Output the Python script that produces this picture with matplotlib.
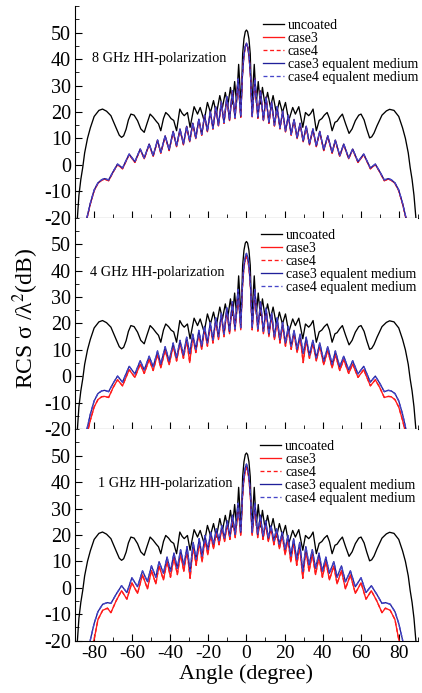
import matplotlib.pyplot as plt
from matplotlib.ticker import MultipleLocator

plt.rcParams['font.family'] = ['Liberation Serif', 'DejaVu Serif']
plt.rcParams['mathtext.fontset'] = 'stix'
plt.rcParams['axes.unicode_minus'] = False

# uncoated target (same in every panel)
angle_unc = [-88.8, -88.0, -87.0, -86.0, -85.0, -83.5, -82.0, -80.0, -77.5, -75.6, -73.5, -71.2, -68.6, -66.8,
             -65.6, -64.5, -63.2, -62.0, -60.7, -59.0, -57.2, -55.5, -53.7, -52.3, -50.6, -49.0, -47.4, -46.2,
             -45.0, -43.6, -42.4, -40.9, -39.6, -38.2, -36.7, -35.0, -33.8, -32.7, -31.0, -29.6, -27.5, -25.7,
             -24.3, -22.2, -20.5, -18.9, -17.3, -15.8, -14.0, -12.6, -11.1, -9.8, -8.4, -7.3, -6.2, -5.2, -4.1,
             -2.8, -2.0, -1.3, -0.6, 0.0,
             0.6, 1.3, 2.0, 2.8, 4.1, 5.2, 6.2, 7.3, 8.4, 9.8, 11.1, 12.6, 14.0, 15.8, 17.3, 18.9, 20.5, 22.2,
             24.3, 25.7, 27.5, 29.6, 31.0, 32.7, 33.8, 35.0, 36.7, 38.2, 39.6, 40.9, 42.4, 43.6, 45.0, 46.5,
             47.6, 49.0, 50.4, 52.1, 53.9, 55.5, 57.2, 59.0, 60.2, 61.8, 63.2, 64.7, 65.8, 67.0, 68.6, 71.2,
             73.5, 75.2, 77.5, 80.0, 82.0, 83.5, 85.0, 86.0, 87.0, 88.0, 89.0]
rcs_unc = [-20, -11.5, -5.5, -1.0, 4.5, 10.0, 14.0, 18.3, 20.6, 21.1, 20.3, 18.6, 14.2, 11.2,
           10.4, 11.0, 13.5, 17.0, 19.2, 18.8, 16.7, 13.6, 12.3, 15.5, 19.2, 18.0, 16.5, 15.5,
           12.9, 17.5, 19.8, 18.8, 17.5, 16.8, 12.9, 21.1, 19.5, 18.6, 19.8, 14.2, 22.0, 19.2,
           21.7, 16.7, 23.6, 19.8, 24.3, 19.2, 26.2, 21.7, 27.4, 22.4, 29.3, 23.0, 31.5, 23.5, 38.0,
           22.0, 42.0, 47.7, 50.4, 51.0,
           50.4, 47.7, 42.0, 22.0, 38.0, 23.5, 31.5, 23.0, 29.3, 22.4, 27.4, 21.7, 26.2, 19.2, 24.3, 19.8,
           23.6, 16.7, 21.7, 19.2, 22.0, 14.2, 19.8, 18.6, 19.5, 21.1, 12.9, 16.8, 17.5, 18.8, 19.8, 17.5,
           12.9, 16.1, 16.5, 18.0, 19.2, 15.5, 11.9, 13.6, 16.7, 18.8, 19.2, 17.0, 13.5, 10.2, 10.6, 12.0,
           14.8, 18.8, 20.4, 21.0, 20.6, 18.3, 14.0, 10.0, 4.5, -1.0, -5.5, -11.5, -20]

# coated targets, 8 GHz and 4 GHz share the lobe angles
angle_hi = [-83.8, -82.0, -80.0, -78.0, -76.0, -74.5, -72.4, -70.0, -67.7, -65.1, -61.6, -58.6, -55.8, -53.7,
            -51.1, -49.0, -46.7, -45.0, -42.7, -40.6, -38.5, -36.7, -34.9, -33.1, -31.4, -29.8, -28.2, -26.6,
            -25.0, -23.5, -22.0, -20.5, -19.0, -17.6, -16.1, -14.7, -13.2, -11.8, -10.3, -8.9, -7.4, -6.0,
            -4.4, -3.0, -2.2, -1.4, -0.7, 0.0,
            0.7, 1.4, 2.2, 3.0, 4.4, 6.0, 7.4, 8.9, 10.3, 11.8, 13.2, 14.7, 16.1, 17.6, 19.0, 20.5, 22.0,
            23.5, 25.0, 26.6, 28.2, 29.8, 31.4, 33.1, 34.9, 36.7, 38.5, 40.6, 42.7, 45.0, 46.7, 49.0, 51.1,
            53.7, 55.8, 58.6, 61.6, 65.1, 67.7, 70.0, 72.4, 74.5, 76.0, 78.0, 80.0, 82.0, 83.8]

case3_8 = [-20.3, -14.8, -9.8, -7.0, -5.8, -5.4, -6.0, -2.7, 0.1, -1.5, 3.9, 0.9, 5.8, 2.3, 7.7, 3.2, 9.2, 4.4,
           10.8, 5.4, 12.5, 6.9, 13.4, 7.6, 14.4, 8.7, 15.6, 9.9, 17.1, 11.2, 18.6, 12.5, 20.1, 13.5, 21.8, 14.7,
           23.6, 15.7, 25.6, 16.7, 27.8, 17.5, 32.3, 18.0, 32.8, 40.8, 44.4, 45.8,
           44.4, 40.8, 32.8, 18.1, 32.4, 17.6, 27.8, 16.7, 25.5, 15.7, 23.6, 14.7, 21.8, 13.6, 20.1, 12.5, 18.6,
           11.2, 17.0, 9.9, 15.6, 8.7, 14.4, 7.6, 13.4, 6.9, 12.5, 5.4, 10.8, 4.4, 9.2, 3.2, 7.7, 2.3, 5.8, 0.9,
           3.9, -1.5, 0.1, -2.7, -6.0, -5.4, -5.8, -7.0, -9.8, -14.8, -20.3]
case4_8 = case3_8
eq3_8 = [-20, -14.5, -9.5, -6.8, -5.6, -5.2, -5.7, -2.5, 0.3, -1.2, 4.1, 1.2, 6.0, 2.6, 7.9, 3.5, 9.4, 4.7,
         11.0, 5.7, 12.7, 7.2, 13.6, 7.9, 14.6, 9.0, 15.8, 10.2, 17.3, 11.5, 18.8, 12.8, 20.3, 13.8, 22.0, 15.0,
         23.8, 16.0, 25.8, 17.0, 28.0, 17.8, 32.5, 18.3, 33.0, 41.0, 44.6, 46.0,
         44.6, 41.0, 33.0, 18.4, 32.6, 17.9, 28.0, 17.0, 25.7, 16.0, 23.8, 15.0, 22.0, 13.9, 20.3, 12.8, 18.8,
         11.5, 17.2, 10.2, 15.8, 9.0, 14.6, 7.9, 13.6, 7.2, 12.7, 5.7, 11.0, 4.7, 9.4, 3.5, 7.9, 2.6, 6.0, 1.2,
         4.1, -1.2, 0.3, -2.5, -5.7, -5.2, -5.6, -6.8, -9.5, -14.5, -20]
eq4_8 = eq3_8

case3_4 = [-22.0, -16.6, -11.6, -8.8, -7.7, -7.6, -8.0, -4.2, -1.3, -3.6, 2.5, -0.4, 4.6, 1.1, 6.3, 2.2, 8.3, 3.2,
           9.9, 4.4, 11.5, 5.8, 12.6, 6.8, 13.8, 5.2, 15.0, 9.0, 16.4, 10.2, 17.9, 11.4, 19.5, 12.6, 21.3, 13.9,
           23.2, 15.0, 25.3, 16.1, 27.6, 17.1, 32.2, 17.6, 32.8, 40.6, 44.0, 45.5,
           44.0, 40.6, 32.8, 17.6, 32.2, 17.1, 27.6, 16.1, 25.3, 15.0, 23.2, 13.9, 21.3, 12.6, 19.5, 11.4, 17.9,
           10.2, 16.4, 9.0, 15.0, 5.2, 13.8, 6.8, 12.6, 5.8, 11.5, 4.4, 9.9, 3.2, 8.3, 2.2, 6.3, 1.1, 4.6, -0.4,
           2.5, -3.6, -1.3, -4.2, -8.0, -7.6, -7.7, -8.8, -11.6, -16.6, -22.0]
case4_4 = case3_4
eq3_4 = [-20, -14.3, -9.3, -6.5, -5.5, -5.3, -5.8, -2.6, 0.1, -2.2, 3.8, 0.9, 5.9, 2.4, 7.6, 3.6, 9.6, 4.6,
         11.2, 5.8, 12.6, 7.0, 13.6, 8.0, 14.8, 8.6, 16.0, 10.2, 17.4, 11.4, 18.9, 12.6, 20.4, 13.8, 22.1, 15.0,
         23.9, 16.0, 25.9, 17.0, 28.2, 17.9, 32.8, 18.4, 33.4, 41.4, 45.0, 46.5,
         45.0, 41.4, 33.4, 18.4, 32.8, 17.9, 28.2, 17.0, 25.9, 16.0, 23.9, 15.0, 22.1, 13.8, 20.4, 12.6, 18.9,
         11.4, 17.4, 10.2, 16.0, 8.6, 14.8, 8.0, 13.6, 7.0, 12.6, 5.8, 11.2, 4.6, 9.6, 3.6, 7.6, 2.4, 5.9, 0.9,
         3.8, -2.2, 0.1, -2.6, -5.8, -5.3, -5.5, -6.5, -9.3, -14.3, -20]
eq4_4 = eq3_4

# 1 GHz lobes sit at slightly different angles
angle_lo = [-82.1, -80.0, -78.0, -75.5, -73.0, -71.2, -68.5, -65.6, -62.8, -60.2, -57.2, -54.6, -52.0, -49.9,
            -47.6, -45.9, -43.6, -41.7, -39.9, -38.1, -36.3, -34.6, -32.9, -31.2, -29.6, -28.0, -26.4, -24.8,
            -23.3, -21.8, -20.3, -18.8, -17.3, -15.8, -14.4, -12.9, -11.5, -10.1, -8.7, -7.3, -5.9, -4.4,
            -3.0, -2.2, -1.4, -0.7, 0.0,
            0.7, 1.4, 2.2, 3.0, 4.4, 5.9, 7.3, 8.7, 10.1, 11.5, 12.9, 14.4, 15.8, 17.3, 18.8, 20.3, 21.8,
            23.3, 24.8, 26.4, 28.0, 29.6, 31.2, 32.9, 34.6, 36.3, 38.1, 39.9, 41.7, 43.6, 45.9, 47.6, 49.9,
            52.0, 54.6, 57.2, 60.2, 62.8, 65.6, 68.5, 71.2, 73.0, 75.5, 78.0, 80.0, 82.1]
case3_1 = [-24.0, -19.5, -12.0, -8.5, -7.7, -9.4, -5.0, -1.1, -4.3, 1.9, -2.1, 4.9, -0.4, 6.5, 1.5, 8.3, 3.0,
           10.0, 4.0, 11.6, 5.0, 12.9, 6.2, 14.2, 3.6, 15.8, 8.5, 17.2, 9.8, 18.5, 12.5, 19.8, 14.8, 21.2, 16.3,
           22.5, 17.5, 24.3, 18.3, 26.6, 19.0, 31.0, 19.8, 33.0, 40.5, 44.0, 45.6,
           44.0, 40.5, 33.0, 19.8, 31.0, 19.0, 26.6, 18.3, 24.3, 17.5, 22.5, 16.3, 21.2, 14.8, 19.8, 12.5, 18.5,
           9.8, 17.2, 8.5, 15.8, 3.6, 14.2, 6.2, 12.9, 5.0, 11.6, 4.0, 10.0, 3.0, 8.3, 1.5, 6.5, -0.4, 4.9, -2.1,
           1.9, -4.3, -1.1, -5.0, -9.4, -7.7, -8.5, -12.0, -19.5, -24.0]
case4_1 = case3_1
eq3_1 = [-20, -13.5, -9.0, -6.2, -5.6, -5.9, -2.5, 0.8, -1.8, 3.8, 0.4, 6.4, 2.3, 8.3, 4.0, 9.9, 5.5,
         11.6, 6.3, 13.1, 7.4, 14.4, 8.6, 15.6, 6.2, 17.2, 10.8, 18.6, 12.0, 19.8, 14.5, 21.0, 16.5, 22.3, 17.8,
         23.5, 18.8, 25.3, 19.5, 27.5, 20.2, 32.0, 21.0, 34.0, 41.5, 45.2, 46.8,
         45.2, 41.5, 34.0, 21.0, 32.0, 20.2, 27.5, 19.5, 25.3, 18.8, 23.5, 17.8, 22.3, 16.5, 21.0, 14.5, 19.8,
         12.0, 18.6, 10.8, 17.2, 6.2, 15.6, 8.6, 14.4, 7.4, 13.1, 6.3, 11.6, 5.5, 9.9, 4.0, 8.3, 2.3, 6.4, 0.4,
         3.8, -1.8, 0.8, -2.5, -5.9, -5.6, -6.2, -9.0, -13.5, -20]
eq4_1 = eq3_1

titles = ['8 GHz HH-polarization', '4 GHz HH-polarization', '1 GHz HH-polarization']
title_pos = [(0.05, 0.752), (0.044, 0.740), (0.067, 0.741)]
legend_pos = [(0.548, 0.94), (0.542, 0.945), (0.540, 0.95)]

RED = '#ff1a1a'
BLUE = '#20209a'
BLUE2 = '#4646c8'

fig, axes = plt.subplots(3, 1, figsize=(4.22, 6.93), dpi=100, sharex=True)
fig.subplots_adjust(left=0.178, right=0.990, bottom=0.0755, top=0.991, hspace=0)

series = [(angle_hi, case3_8, case4_8, eq3_8, eq4_8),
          (angle_hi, case3_4, case4_4, eq3_4, eq4_4),
          (angle_lo, case3_1, case4_1, eq3_1, eq4_1)]

for i, ax in enumerate(axes):
    ang, c3, c4, e3, e4 = series[i]
    ax.plot(angle_unc, rcs_unc, color='black', lw=0.95, label='uncoated')
    ax.plot(ang, c3, color=RED, lw=0.95, label='case3')
    ax.plot(ang, c4, color=RED, lw=0.95, ls=(0, (3, 2)), label='case4')
    ax.plot(ang, e3, color=BLUE, lw=0.95, label='case3 equalent medium')
    ax.plot(ang, e4, color=BLUE2, lw=0.95, ls=(0, (3, 2)), label='case4 equalent medium')

    ax.set_xlim(-90, 90)
    ax.set_ylim(-20, 60)
    ax.spines['top'].set_visible(False)
    ax.spines['right'].set_visible(False)
    ax.set_yticks(range(-20, 51, 10))
    ax.yaxis.set_minor_locator(MultipleLocator(5))
    ax.set_xticks(range(-80, 81, 20))
    ax.set_xticks(range(-90, 91, 20), minor=True)
    ax.tick_params(which='both', direction='in', pad=3)
    ax.tick_params(axis='y', labelsize=14.5)
    ax.tick_params(axis='x', labelsize=14)
    ax.tick_params(which='major', length=5)
    ax.tick_params(which='minor', length=3)

    ax.text(title_pos[i][0], title_pos[i][1], titles[i], transform=ax.transAxes,
            fontsize=10.3, va='center', ha='left')
    ax.legend(loc='upper left', bbox_to_anchor=legend_pos[i], frameon=False, fontsize=10,
              handlelength=1.5, handletextpad=0.3, labelspacing=0.0, borderpad=0, borderaxespad=0)

axes[2].set_xlabel('Angle (degree)', fontsize=16, labelpad=2)
fig.text(0.062, 0.541, 'RCS σ /λ$^{2}$(dB)', rotation=90, fontsize=17, va='center', ha='center')

plt.savefig('out.png', dpi=100)
